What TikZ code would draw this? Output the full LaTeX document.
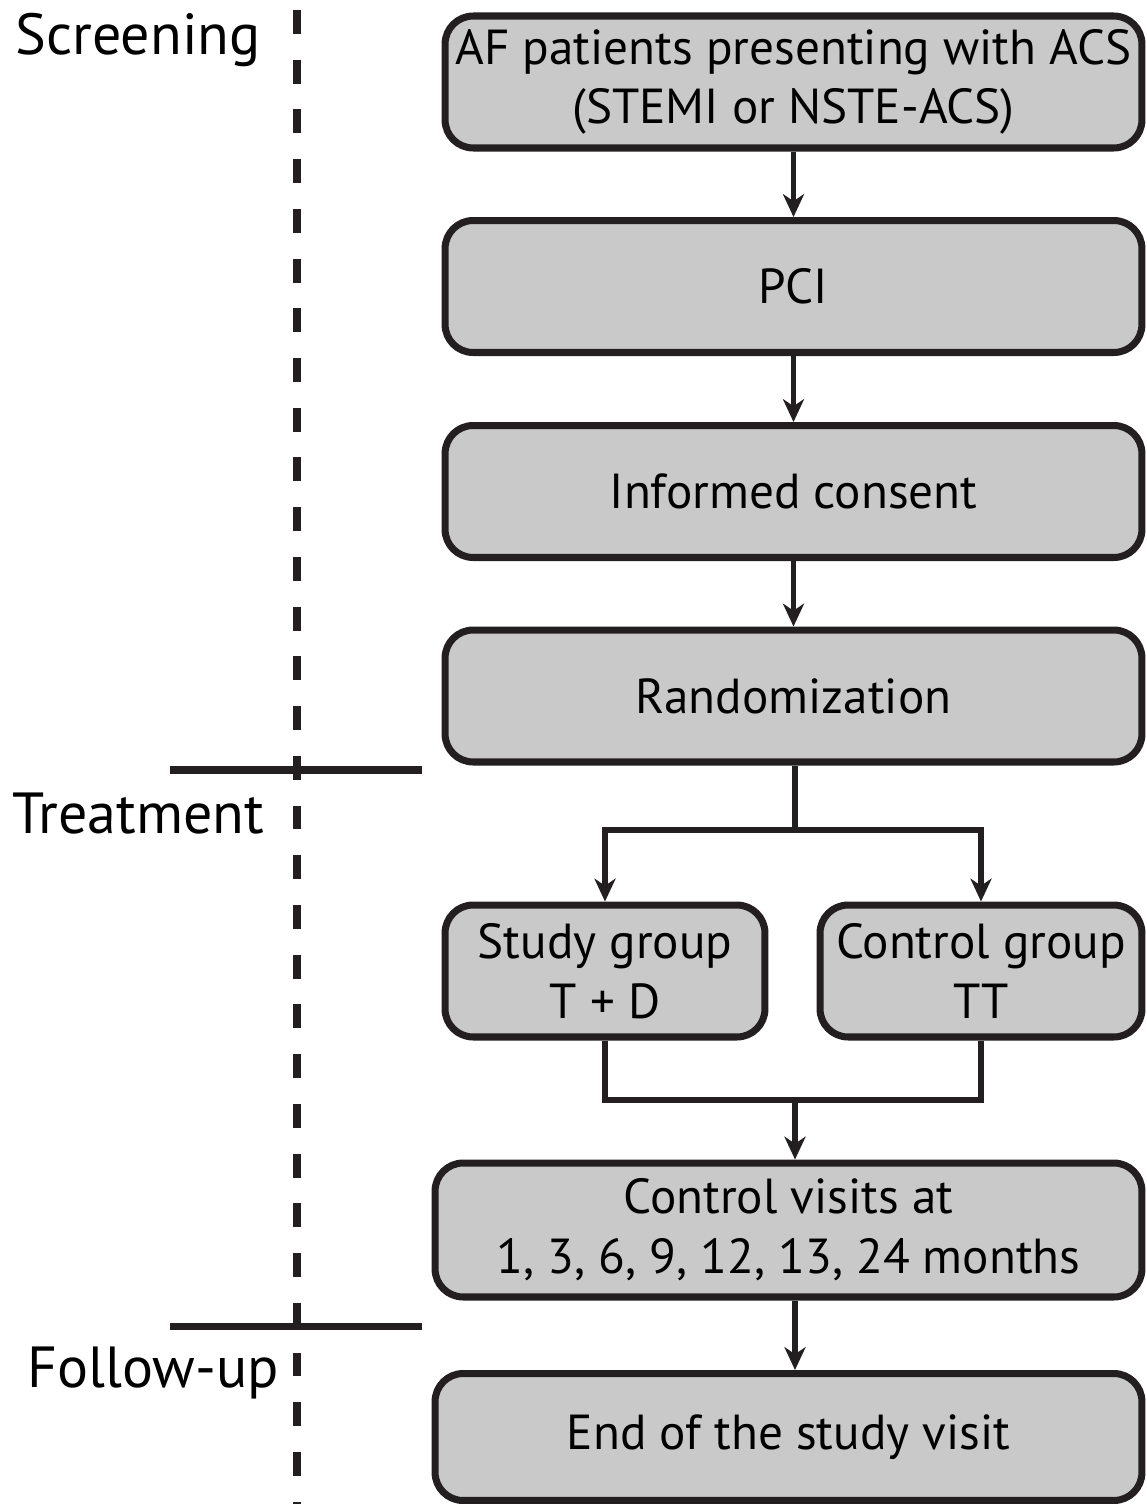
\documentclass[tikz,border=0pt]{standalone}
\usepackage{tikz}
\usepackage{xcolor}
\usepackage{fontspec}
\setmainfont{PT Sans}
\usetikzlibrary{arrows.meta}

\begin{document}
\begin{tikzpicture}[x=0.02cm,y=-0.02cm,
  mybox/.style={draw=lineblack,fill=boxgray,line width=4pt,rounded corners=16pt,
    align=center,minimum height=2.64cm,font=\fontsize{28}{34}\selectfont},
  myline/.style={draw=lineblack,line width=3pt},
  myarrow/.style={myline,-{Stealth[length=13pt,width=12pt,inset=4pt]}},
  mylabel/.style={anchor=base west,inner sep=0,font=\fontsize{33}{40}\selectfont}]
\definecolor{lineblack}{HTML}{231F20}
\definecolor{boxgray}{HTML}{C9C9C9}
\useasboundingbox (0,0) rectangle (1146,1504);
% phases on the left
\node[mylabel] (screen) at (15,55) {Screening};
\node[mylabel] (treat) at (12,833) {Treatment};
\node[mylabel] (follow) at (27,1387) {Follow-up};
\draw[lineblack,line width=4pt,dash pattern=on 13.6pt off 14.7pt] (297,10) -- (297,1504);
\foreach \ypos in {770,1326}
  {\draw[myline,line width=4pt] (170,\ypos) -- (422,\ypos);}
% flow chart
\node[mybox,minimum width=13.94cm] (afpat) at (793.5,82) {AF patients presenting with ACS\\(STEMI or NSTE-ACS)};
\foreach \nm/\ypos/\txt in {pci/286.5/PCI,consent/491.5/Informed consent,random/696/Randomization}
  {\node[mybox,minimum width=13.94cm] (\nm) at (793.5,\ypos) {\txt};}
\node[mybox,minimum width=6.4cm] (study) at (605,971) {Study group\\T + D};
\node[mybox,minimum width=6.44cm] (control) at (981,971) {Control group\\TT};
\node[mybox,minimum width=14.14cm,minimum height=2.68cm] (visits) at (788.5,1230) {Control visits at\\1, 3, 6, 9, 12, 13, 24 months};
\node[mybox,minimum width=14.14cm,minimum height=2.54cm] (endvisit) at (788.5,1437) {End of the study visit};
\coordinate (split) at (795,830);
\coordinate (join) at (795,1100);
\foreach \a/\b in {afpat/pci,pci/consent,consent/random}
  {\draw[myarrow] (\a) -- (\b);}
\draw[myline] (random.south -| split) -- (split);
\draw[myarrow] (split) -| (study);
\draw[myarrow] (split) -| (control);
\draw[myline] (study) |- (join) -| (control);
\draw[myarrow] (join) -- (join |- visits.north);
\draw[myarrow] (visits.south -| join) -- (endvisit.north -| join);
\end{tikzpicture}
\end{document}
